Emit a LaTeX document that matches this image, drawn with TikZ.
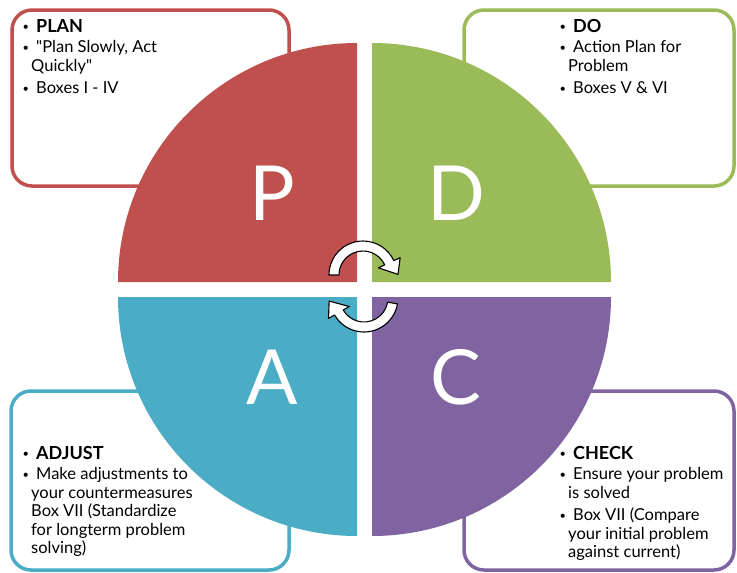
\documentclass[tikz,border=0pt]{standalone}
\usepackage{fontspec}
\setmainfont{Lato}[Ligatures=TeXOff]
\usepackage{xcolor}
\usepackage{tikz}
\usetikzlibrary{calc}
\definecolor{plancol}{RGB}{192, 80, 77}
\definecolor{docol}{RGB}{155, 187, 89}
\definecolor{checkcol}{RGB}{128, 100, 162}
\definecolor{adjustcol}{RGB}{75, 172, 198}
\newcommand{\bulletmark}{\makebox[13.5pt][l]{\raisebox{1.5pt}{\fontsize{11}{11}\selectfont\textbullet}}}
\newcommand{\headword}[1]{{\fontsize{18}{18.5}\selectfont\bfseries #1}}

\begin{document}
\begin{tikzpicture}[
				x=1pt, y=-1pt,
				infobox/.style={draw=#1, line width=3.5pt, fill=white, rounded corners=20pt},
				listtext/.style={anchor=north west, inner sep=0pt, align=left, font=\fontsize{16.5}{18.5}\selectfont},
				quadletter/.style={text=white, inner sep=0pt, font=\fontsize{76}{76}\selectfont},
				cyclearrow/.style={draw=black, line width=1.1pt, fill=white, line join=round}
				]
				\useasboundingbox (0,0) rectangle (737,573);

				% Corner boxes
				\draw[infobox=plancol] (12,10) rectangle (289,186);
				\draw[infobox=docol] (464,10) rectangle (734,186);
				\draw[infobox=adjustcol] (11,391) rectangle (289,570);
				\draw[infobox=checkcol] (464,391) rectangle (734,570);

				% Quadrants
				\fill[plancol] (357,282) -- ++(-239,0) arc[start angle=180, end angle=270, radius=239] -- cycle;
				\fill[docol] (372,282) -- ++(0,-239) arc[start angle=270, end angle=360, radius=239] -- cycle;
				\fill[checkcol] (372,297) -- ++(239,0) arc[start angle=0, end angle=90, radius=239] -- cycle;
				\fill[adjustcol] (357,297) -- ++(0,239) arc[start angle=90, end angle=180, radius=239] -- cycle;

				\node[quadletter] (letP) at (272,193) {P};
				\node[quadletter] (letD) at (456,193) {D};
				\node[quadletter] (letA) at (272,377) {A};
				\node[quadletter] (letC) at (456,377) {C};

				% Cycle arrows
				\coordinate (ctop) at (363,275);
				\coordinate (cbot) at (364,298);
				\draw[cyclearrow] ($(ctop)+(180:24)$) -- ($(ctop)+(180:34)$)
					arc[start angle=180, end angle=335, radius=34]
					-- ($(ctop)+(335:41)$) -- ($(ctop)+(-1:35)$) -- ($(ctop)+(335:17)$) -- ($(ctop)+(335:24)$)
					arc[start angle=335, end angle=180, radius=24] -- cycle;
				\draw[cyclearrow] ($(cbot)+(10:24)$) -- ($(cbot)+(10:34)$)
					arc[start angle=10, end angle=150, radius=34]
					-- ($(cbot)+(150:41)$) -- ($(cbot)+(175:35)$) -- ($(cbot)+(150:17)$) -- ($(cbot)+(150:24)$)
					arc[start angle=150, end angle=10, radius=24] -- cycle;

				% Box texts
				\node[listtext] (plantext) at (22.5,19.1) {\bulletmark\headword{PLAN}\\[2pt]
					\bulletmark"Plan Slowly, Act\\
					\hspace*{8.5pt}Quickly"\\[4pt]
					\bulletmark Boxes I - IV};
				\node[listtext] (dotext) at (559.5,19.1) {\bulletmark\headword{DO}\\[2pt]
					\bulletmark Action Plan for\\
					\hspace*{8.5pt}Problem\\[4pt]
					\bulletmark Boxes V \& VI};
				\node[listtext] (adjusttext) at (22.5,446.1) {\bulletmark\headword{ADJUST}\\[2pt]
					\bulletmark Make adjustments to\\
					\hspace*{8.5pt}your countermeasures\\
					\hspace*{8.5pt}Box VII (Standardize\\
					\hspace*{8.5pt}for longterm problem\\
					\hspace*{8.5pt}solving)};
				\node[listtext] (checktext) at (559.5,446.1) {\bulletmark\headword{CHECK}\\[2pt]
					\bulletmark Ensure your problem\\
					\hspace*{8.5pt}is solved\\[4pt]
					\bulletmark Box VII (Compare\\
					\hspace*{8.5pt}your initial problem\\
					\hspace*{8.5pt}against current)};
			\end{tikzpicture}
\end{document}
